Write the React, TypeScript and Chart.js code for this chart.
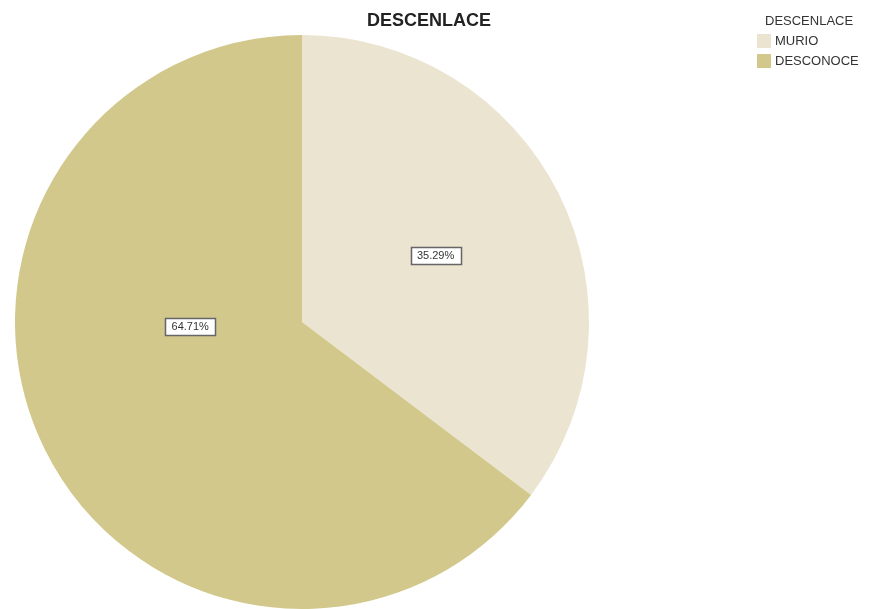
import React, { useEffect, useRef } from "react";
import { Chart, registerables } from "chart.js";

Chart.register(...registerables);

const chartTitle = "DESCENLACE";
const legendTitle = "DESCENLACE";
const categories = ["MURIO", "DESCONOCE"];
const values = [35.29, 64.71];
const colors = ["#EAE4D0", "#D2C88B"];

// label placement relative to each slice (radius fraction, angle shift in degrees)
const labelPlacement = [
  { r: 0.52, shift: 0 },
  { r: 0.39, shift: 24 },
];

const overlayPlugin = {
  id: "overlay",
  afterDraw(chart: any) {
    const ctx = chart.ctx;
    ctx.save();
    // title
    ctx.fillStyle = "#222";
    ctx.font = "bold 18px Arial, 'Liberation Sans', sans-serif";
    ctx.textAlign = "center";
    ctx.textBaseline = "middle";
    ctx.fillText(chartTitle, 429, 21);

    // legend
    ctx.font = "13px Arial, 'Liberation Sans', sans-serif";
    ctx.textAlign = "left";
    ctx.fillStyle = "#333";
    ctx.fillText(legendTitle, 765, 21);
    categories.forEach((c, i) => {
      const y = 41 + i * 20;
      ctx.fillStyle = colors[i];
      ctx.fillRect(757, y - 7, 14, 14);
      ctx.fillStyle = "#333";
      ctx.fillText(c, 775, y);
    });

    // percentage labels
    const meta = chart.getDatasetMeta(0);
    const total = values.reduce((a, b) => a + b, 0);
    meta.data.forEach((arc: any, i: number) => {
      const p = arc.getProps(["x", "y", "startAngle", "endAngle", "outerRadius"], true);
      const pl = labelPlacement[i] || { r: 0.5, shift: 0 };
      const mid = (p.startAngle + p.endAngle) / 2 + (pl.shift * Math.PI) / 180;
      const r = p.outerRadius * pl.r;
      const lx = p.x + Math.cos(mid) * r;
      const ly = p.y + Math.sin(mid) * r;
      const txt = ((values[i] / total) * 100).toFixed(2) + "%";
      ctx.font = "11px Arial, 'Liberation Sans', sans-serif";
      const w = 50;
      const h = 17;
      const bx = Math.round(lx - w / 2) + 0.5;
      const by = Math.round(ly - h / 2) + 0.5;
      ctx.fillStyle = "#fff";
      ctx.fillRect(bx, by, w, h);
      ctx.strokeStyle = "#666";
      ctx.lineWidth = 1.5;
      ctx.strokeRect(bx, by, w, h);
      ctx.fillStyle = "#333";
      ctx.textAlign = "center";
      ctx.fillText(txt, lx, ly + 0.5);
    });
    ctx.restore();
  },
};

export default function App() {
  const ref = useRef<HTMLCanvasElement>(null);
  useEffect(() => {
    if (!ref.current) return;
    const chart = new Chart(ref.current, {
      type: "pie",
      data: {
        labels: categories,
        datasets: [
          {
            data: values,
            backgroundColor: colors,
            borderWidth: 0,
          },
        ],
      },
      options: {
        responsive: false,
        animation: false,
        layout: { padding: { left: 15, top: 35, right: 290, bottom: 0 } },
        plugins: {
          legend: { display: false },
          title: { display: false },
          tooltip: { enabled: false },
        },
      },
      plugins: [overlayPlugin],
    });
    return () => chart.destroy();
  }, []);
  return (
    <div style={{ position: "fixed", left: 0, top: 0, width: 879, height: 609, background: "#fff" }}>
      <canvas ref={ref} width={879} height={609} />
    </div>
  );
}
